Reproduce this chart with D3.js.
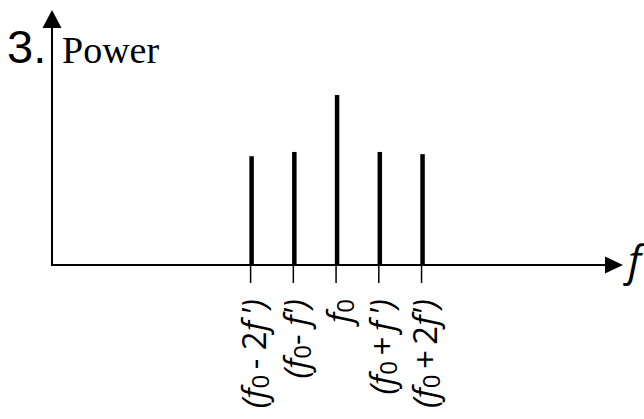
<!DOCTYPE html>
<html><head><meta charset="utf-8">
<script src="https://cdn.jsdelivr.net/npm/d3@7"></script>
<style>body{margin:0;background:#fff}svg{display:block}</style>
</head><body>
<svg id="c" width="644" height="419"></svg>
<script>
// Data
const offsets = [-2, -1, 0, 1, 2];           // multiples of f'
const power = [0.64, 0.665, 1.0, 0.665, 0.652];
const tickLabels = [
  [["(", "i"], ["f", "i"], ["0", "sub"], ["\u2009- 2", "n"], ["f", "i"], ["\u2009')", "i"]],
  [["(", "i"], ["f", "i"], ["0", "sub"], ["- ", "n"], ["f", "i"], ["')", "i"]],
  [["f", "i"], ["0", "sub"]],
  [["(", "i"], ["f", "i"], ["0", "sub"], ["\u2009+\u2009", "n"], ["f", "i"], ["\u2009')", "i"]],
  [["(", "i"], ["f", "i"], ["0", "sub"], ["\u2009+\u20092", "n"], ["f", "i"], ["')", "i"]]
];
const chartNumber = "3.";
const yTitle = "Power";
const xTitle = "f";

const svg = d3.select("#c");
const x = d3.scaleLinear().domain([-6.67, 6.69]).range([52, 623]);
const y = d3.scaleLinear().domain([0, 1]).range([265, 95]);

// x axis line + arrow
const x0 = x.domain()[0], x1 = x.domain()[1];
svg.append("line").attr("x1", x(x0)).attr("x2", x(x1) - 12)
  .attr("y1", y(0)).attr("y2", y(0)).attr("stroke", "#000").attr("stroke-width", 2);
svg.append("path")
  .attr("d", `M${x(x1)},${y(0)} L${x(x1) - 18},${y(0) - 8.5} L${x(x1) - 18},${y(0) + 8.5} Z`)
  .attr("fill", "#000");

// y axis line + arrow
const yTop = 10;
svg.append("line").attr("x1", x(x0)).attr("x2", x(x0))
  .attr("y1", y(0) + 1).attr("y2", yTop + 12).attr("stroke", "#000").attr("stroke-width", 2);
svg.append("path")
  .attr("d", `M${x(x0)},${yTop} L${x(x0) - 9.5},${yTop + 18} L${x(x0) + 9.5},${yTop + 18} Z`)
  .attr("fill", "#000");

// ticks
svg.selectAll(".tick").data(offsets).join("line")
  .attr("x1", d => x(d) - 1).attr("x2", d => x(d) - 1)
  .attr("y1", y(0)).attr("y2", y(0) + 18)
  .attr("stroke", "#000").attr("stroke-width", 1.5);

// bars (spectral lines)
svg.selectAll(".bar").data(offsets).join("line")
  .attr("x1", d => x(d)).attr("x2", d => x(d))
  .attr("y1", (d, i) => y(power[i])).attr("y2", y(0))
  .attr("stroke", "#000").attr("stroke-width", 4.5);

// tick labels, rotated
const lab = svg.selectAll(".lab").data(offsets).join("text")
  .attr("transform", d => `translate(${x(d) + 14},299) rotate(-90)`)
  .attr("text-anchor", "end")
  .attr("font-family", "'Open Sans', sans-serif")
  .attr("font-size", 33)
  .attr("fill", "#000");
lab.each(function(d, i) {
  const t = d3.select(this);
  tickLabels[i].forEach(([s, k], j) => {
    const ts = t.append("tspan").text(s);
    if (k === "i") ts.attr("font-style", "italic");
    const prev = j > 0 ? tickLabels[i][j - 1][1] : null;
    if (k === "sub") ts.attr("font-size", 24).attr("dy", 3);
    else if (prev === "sub") ts.attr("dy", -3);
  });
});

// titles
svg.append("text").attr("x", 7).attr("y", 63)
  .attr("font-family", "Liberation Sans, Arial, sans-serif").attr("font-size", 47)
  .text(chartNumber);
svg.append("text").attr("x", 62).attr("y", 63)
  .attr("font-family", "Liberation Serif, serif").attr("font-size", 38)
  .text(yTitle);
svg.append("text").attr("x", 628).attr("y", 276)
  .attr("font-family", "'Open Sans', sans-serif").attr("font-style", "italic").attr("font-size", 42)
  .text(xTitle);
</script>
</body></html>
